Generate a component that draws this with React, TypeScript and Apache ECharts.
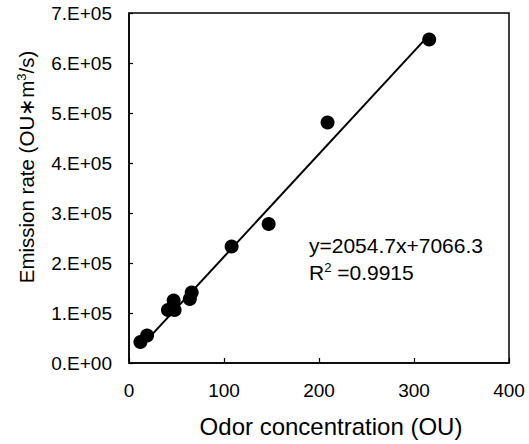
import React, { useEffect, useRef } from "react";
import * as echarts from "echarts";

const odorConcentration = [12, 19, 41, 47, 48, 64, 66, 108, 147, 209, 316];
const emissionRate = [42000, 55000, 106000, 125000, 106000, 128000, 141000, 233000, 278000, 481000, 647000];
const fitSlope = 2054.7;
const fitIntercept = 7066.3;
const xTicks = [0, 100, 200, 300, 400];
const yTickLabels = ["0.E+00", "1.E+05", "2.E+05", "3.E+05", "4.E+05", "5.E+05", "6.E+05", "7.E+05"];
const xTitle = "Odor concentration (OU)";
const yTitleMain = "Emission rate (OU∗m";
const yTitleSup = "3";
const yTitleEnd = "/s)";
const fitLabel = "y=2054.7x+7066.3";
const r2Value = "=0.9915";

const FONT = "'Liberation Sans', Arial, sans-serif";

export default function App() {
  const ref = useRef<HTMLDivElement>(null);
  useEffect(() => {
    if (!ref.current) return;
    const chart = echarts.init(ref.current, null, { renderer: "svg" });
    const points = odorConcentration.map((x, i) => [x, emissionRate[i]]);
    const xMin = Math.min(...odorConcentration);
    const xMax = Math.max(...odorConcentration);
    const fitLine = [
      [xMin, fitSlope * xMin + fitIntercept],
      [xMax, fitSlope * xMax + fitIntercept],
    ];
    chart.setOption({
      animation: false,
      backgroundColor: "#fff",
      textStyle: { fontFamily: FONT, color: "#000" },
      grid: {
        left: 129,
        right: 20,
        top: 13,
        bottom: 81,
        show: true,
        borderColor: "#000",
        borderWidth: 1.5,
        backgroundColor: "transparent",
      },
      xAxis: {
        type: "value",
        min: 0,
        max: 400,
        interval: 100,
        axisLine: { show: true, lineStyle: { color: "#000", width: 1.5 } },
        axisTick: { show: true, inside: true, length: 5, lineStyle: { color: "#000", width: 1.2 } },
        splitLine: { show: false },
        axisLabel: {
          fontSize: 19,
          color: "#000",
          margin: 18,
          fontFamily: FONT,
          formatter: (v: number) => (xTicks.includes(v) ? String(v) : ""),
        },
      },
      yAxis: {
        type: "value",
        min: 0,
        max: 700000,
        interval: 100000,
        axisLine: { show: true, lineStyle: { color: "#000", width: 1.5 } },
        axisTick: { show: true, inside: true, length: 4, lineStyle: { color: "#000", width: 1.2 } },
        splitLine: { show: false },
        axisLabel: {
          fontSize: 19,
          color: "#000",
          margin: 17,
          fontFamily: FONT,
          formatter: (v: number) => yTickLabels[Math.round(v / 100000)] ?? "",
        },
      },
      series: [
        {
          type: "line",
          data: fitLine,
          symbol: "none",
          lineStyle: { color: "#000", width: 2 },
          silent: true,
          z: 2,
        },
        {
          type: "scatter",
          data: points,
          symbol: "circle",
          symbolSize: 14,
          itemStyle: { color: "#000", opacity: 1 },
          z: 3,
        },
      ],
      graphic: [
        {
          type: "text",
          x: 331,
          y: 426,
          style: {
            text: xTitle,
            fontSize: 24,
            fontFamily: FONT,
            fill: "#000",
            align: "center",
            verticalAlign: "middle",
          },
        },
        {
          type: "text",
          x: 26,
          y: 167,
          rotation: Math.PI / 2,
          style: {
            text: "{a|" + yTitleMain + "}{s|" + yTitleSup + "}{a|" + yTitleEnd + "}",
            fontFamily: FONT,
            fill: "#000",
            align: "center",
            verticalAlign: "middle",
            rich: {
              a: { fontSize: 20.5, fontFamily: FONT, fill: "#000" },
              s: { fontSize: 13, fontFamily: FONT, fill: "#000", verticalAlign: "top", padding: [0, 0, 9, 0] },
            },
          },
        },
        {
          type: "text",
          left: 309,
          top: 235,
          style: { text: fitLabel, fontSize: 21, fontFamily: FONT, fill: "#000" },
        },
        {
          type: "text",
          left: 309,
          top: 261,
          style: {
            text: "{a|R}{s|2}{a| " + r2Value + "}",
            fontFamily: FONT,
            fill: "#000",
            rich: {
              a: { fontSize: 21, fontFamily: FONT, fill: "#000" },
              s: { fontSize: 13, fontFamily: FONT, fill: "#000", verticalAlign: "top", padding: [0, 0, 9, 0] },
            },
          },
        },
      ],
    });
    return () => chart.dispose();
  }, []);
  return (
    <div
      ref={ref}
      style={{ position: "absolute", left: 0, top: 0, width: 529, height: 444 }}
    />
  );
}
